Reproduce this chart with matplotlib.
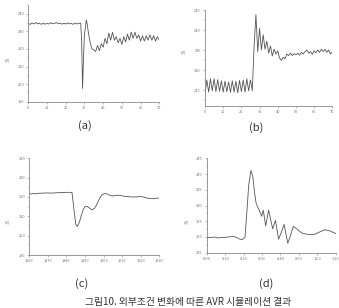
import matplotlib
matplotlib.use("Agg")
import matplotlib.pyplot as plt
from matplotlib.ticker import MultipleLocator

plt.rcParams['font.family'] = ['Noto Sans CJK KR', 'DejaVu Sans']

# ---- data (a)
a_x = list(range(0, 28)) + [28, 28.5, 29, 29.5, 30, 31, 31.5, 32, 33, 34, 35, 36] + list(range(37, 71))
a_y = [234.5, 234.0, 234.8, 234.2, 235.0, 234.3, 234.6, 234.0, 234.7, 234.1, 234.5, 234.2, 234.9, 234.3,
       234.6, 235.0, 234.4, 234.7, 234.1, 234.6, 234.2, 234.8, 234.3, 234.5, 234.0, 234.7, 234.2, 234.6,
       234.6, 225.0, 197.5, 215.0, 228.0, 236.5, 234.0, 230.0, 224.0, 220.0, 219.5, 218.5,
       222.0, 219.0, 223.0, 221.0, 226.0, 223.0, 229.0, 225.0, 229.5, 225.0, 227.0, 223.5, 226.0, 222.5,
       227.0, 224.0, 228.5, 225.0, 229.5, 226.0, 229.5, 226.0, 228.0, 224.5, 227.5, 224.5, 227.5, 225.0,
       228.0, 225.0, 227.5, 224.5, 227.0, 225.0]

# ---- data (b)
b_x = list(range(0, 71))
b_y = [224.0, 227.5, 224.5, 227.8, 224.8, 227.8, 224.6, 227.6, 224.7, 227.3, 224.5, 227.2, 224.6, 227.0,
       224.4, 227.3, 224.5, 227.2, 224.3, 227.4, 224.6, 227.5, 224.5, 227.8, 224.8, 227.5, 224.8,
       236.0, 243.8, 234.5, 240.4, 235.0, 238.8, 235.2, 237.2, 234.2, 236.0, 233.5, 235.2, 234.0, 234.8,
       233.0, 232.4, 233.2, 232.8, 234.0, 233.6, 234.2, 233.6, 234.1, 233.8, 234.2, 233.7, 234.4, 234.0,
       234.6, 235.0, 234.2, 234.6, 233.9, 234.8, 234.3, 235.0, 234.4, 235.2, 234.6, 235.2, 234.4, 235.0,
       234.0, 234.5]

# ---- data (c)
c_x = [1860, 1861, 1862, 1863, 1865, 1868, 1870, 1872, 1875, 1878, 1880, 1882, 1883, 1884, 1885, 1885.8,
       1887, 1888, 1889, 1890, 1891, 1892, 1893, 1894, 1895, 1896, 1897, 1898, 1899, 1900, 1901, 1902,
       1903, 1905, 1907, 1909, 1911, 1913, 1915, 1917, 1919, 1921, 1922, 1924, 1926, 1928, 1929, 1930]
c_y = [221.8, 221.5, 221.9, 221.6, 221.9, 222.0, 222.1, 222.0, 222.2, 222.3, 222.4, 222.4, 222.3, 214.0,
       206.0, 204.7, 207.0, 210.5, 213.5, 215.0, 215.2, 214.6, 213.8, 213.5, 214.0, 215.5, 217.5, 219.5,
       221.0, 221.5, 221.8, 221.5, 221.0, 220.5, 220.9, 220.8, 220.4, 220.2, 220.0, 220.0, 220.2, 220.1,
       219.8, 219.3, 219.1, 219.2, 219.5, 219.3]

# ---- data (d)
d_x = [0, 2, 4, 6, 8, 10, 12, 14, 16, 18, 19.5, 20.8, 21.8, 22.8, 24, 25, 26, 26.8, 27.5, 28.5, 29.8,
       30.7, 32, 33.6, 35.8, 37.3, 39, 40.5, 42, 44, 45.5, 47, 49, 51.5, 54, 57.9, 61, 64, 67, 70]
d_y = [219.9, 219.8, 220.0, 219.7, 219.8, 219.9, 220.0, 220.2, 219.9, 219.3, 219.2, 220.0, 228.0, 236.5,
       241.1, 239.3, 234.0, 230.8, 229.7, 228.5, 226.6, 228.5, 223.5, 228.5, 222.6, 225.3, 219.3, 221.5,
       224.0, 218.0, 220.5, 223.4, 222.5, 221.3, 220.9, 220.7, 221.5, 222.3, 221.9, 221.1]
d_ticklabels = ["0:00", "0:10", "0:20", "0:30", "0:40", "0:50", "1:00", "1:10"]

fig = plt.figure(figsize=(3.39, 3.08), dpi=100)
W, H = 339.0, 308.0

def make_ax(x0, x1, ytop, ybot):
    return fig.add_axes([x0 / W, 1 - ybot / H, (x1 - x0) / W, (ybot - ytop) / H])

LC = '#555555'
GC = '#888888'

def style(ax):
    for s in ['top', 'right']:
        ax.spines[s].set_visible(False)
    for s in ['left', 'bottom']:
        ax.spines[s].set_color(GC)
        ax.spines[s].set_linewidth(0.6)
    ax.tick_params(axis='both', which='major', labelsize=2.8, colors=GC, length=1.5, width=0.4, pad=1.5,
                   labelcolor='#777777')
    ax.tick_params(axis='both', which='minor', colors=GC, length=1.0, width=0.3)

ax_a = make_ax(28.3, 159.3, 5, 101.7)
ax_a.plot(a_x, a_y, color=LC, lw=0.6)
ax_a.set_xlim(0, 70); ax_a.set_ylim(190, 245)
ax_a.set_xticks(range(0, 71, 10)); ax_a.set_yticks(range(190, 241, 10))
ax_a.xaxis.set_minor_locator(MultipleLocator(5)); ax_a.yaxis.set_minor_locator(MultipleLocator(5))
style(ax_a)

ax_b = make_ax(205, 332.3, 10, 106)
ax_b.plot(b_x, b_y, color=LC, lw=0.6)
ax_b.set_xlim(0, 70); ax_b.set_ylim(221, 245)
ax_b.set_xticks(range(0, 71, 10)); ax_b.set_yticks(range(225, 246, 5))
ax_b.xaxis.set_minor_locator(MultipleLocator(5)); ax_b.yaxis.set_minor_locator(MultipleLocator(2.5))
style(ax_b)

ax_c = make_ax(29.3, 159.3, 158.3, 255)
ax_c.plot(c_x, c_y, color=LC, lw=0.6)
ax_c.set_xlim(1860, 1930); ax_c.set_ylim(190, 240)
ax_c.set_xticks(range(1860, 1931, 10)); ax_c.set_yticks(range(190, 241, 10))
ax_c.xaxis.set_minor_locator(MultipleLocator(5)); ax_c.yaxis.set_minor_locator(MultipleLocator(5))
style(ax_c)

ax_d = make_ax(206.7, 335.7, 158.3, 252.7)
ax_d.plot(d_x, d_y, color=LC, lw=0.6)
ax_d.set_xlim(0, 70); ax_d.set_ylim(215, 245)
ax_d.set_xticks(range(0, 71, 10)); ax_d.set_xticklabels(d_ticklabels)
ax_d.set_yticks(range(215, 246, 5))
ax_d.xaxis.set_minor_locator(MultipleLocator(5)); ax_d.yaxis.set_minor_locator(MultipleLocator(2.5))
style(ax_d)

for (x, y) in [(7, 60), (183, 52), (7, 222), (186, 222)]:
    fig.text(x / W, 1 - y / H, "[V]", fontsize=3, color='#666666', ha='center', va='center')

for (x, y, t) in [(85, 126, "(a)"), (256, 128, "(b)"), (82, 284, "(c)"), (266, 284, "(d)")]:
    fig.text(x / W, 1 - y / H, t, fontsize=8, color='#333333', ha='center', va='center')

fig.text(188 / W, 1 - 306.5 / H, "그림10. 외부조건 변화에 따른 AVR 시뮬레이션 결과", fontsize=7,
         color='#333333', ha='center', va='bottom')

fig.savefig("out.png", dpi=100)
